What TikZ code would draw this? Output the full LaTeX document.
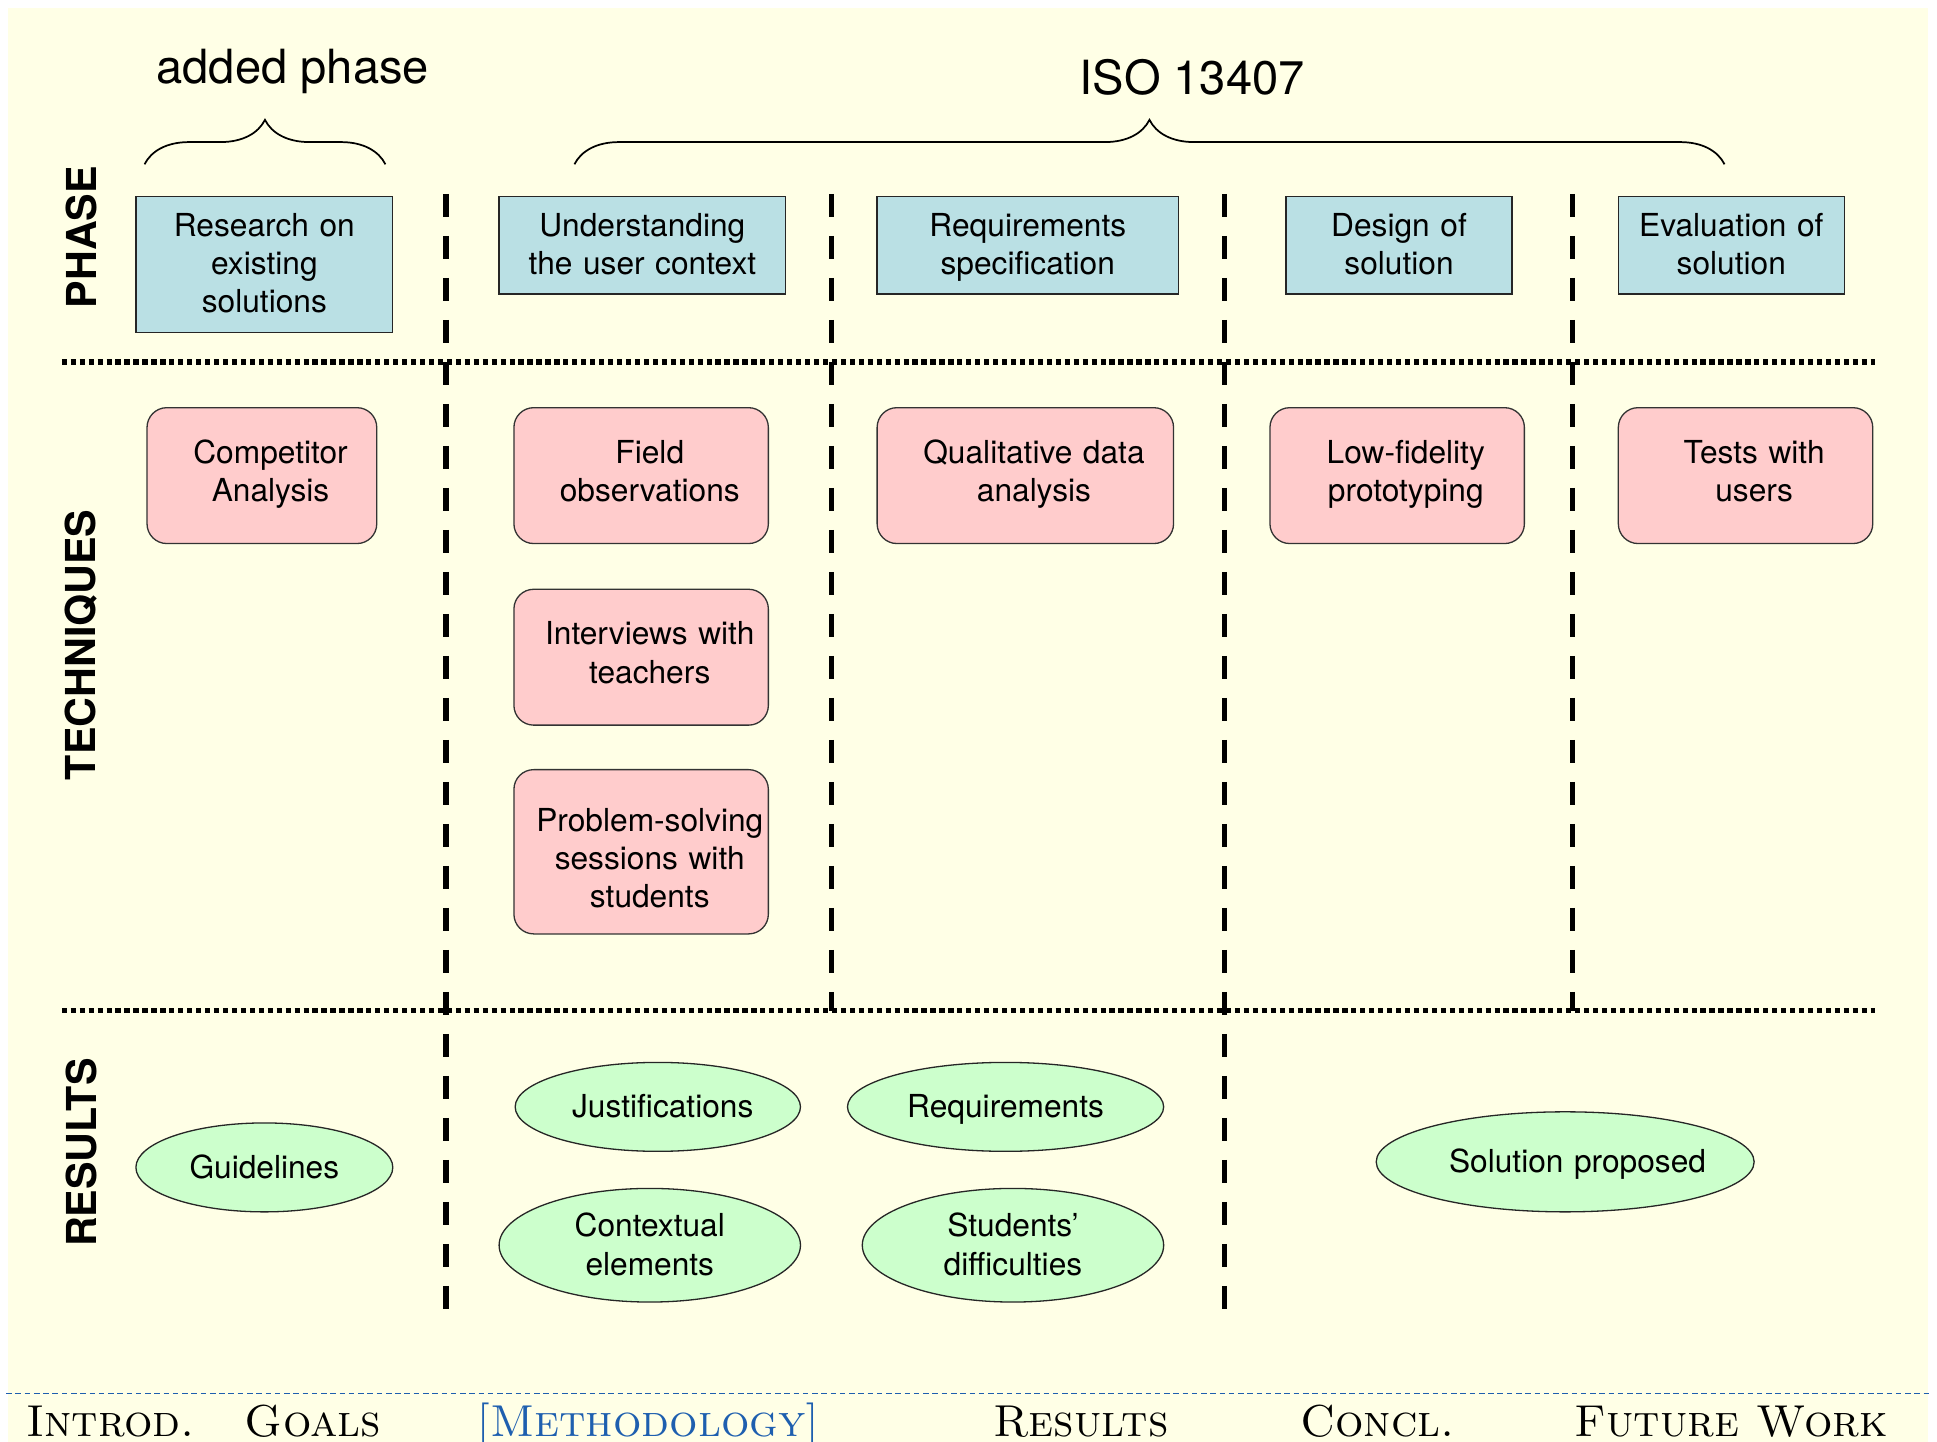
\documentclass[tikz,border=0pt]{standalone}
\usepackage{fontspec}
\newfontfamily\helv{TeX Gyre Heros}
\usetikzlibrary{shapes.geometric,decorations.pathreplacing}

\definecolor{bgyellow}{RGB}{255,255,230}
\definecolor{phaseblue}{RGB}{186,224,228}
\definecolor{techpink}{RGB}{255,204,204}
\definecolor{resgreen}{RGB}{204,255,204}
\definecolor{navblue}{RGB}{30,95,175}

% line struts, so that every line box has the same height and depth
\newcommand{\phasestrut}{\rule[-3.2pt]{0pt}{16pt}}
\newcommand{\techstrut}{\rule[-4.5pt]{0pt}{15.3pt}}
\newcommand{\resstrut}{\rule[-3.2pt]{0pt}{16.3pt}}
\newcommand{\centred}[1]{\leftskip=#1 plus 1fil\rightskip=0pt plus 1fil\parfillskip=0pt}

\begin{document}
\begin{tikzpicture}[x=0.02cm,y=-0.02cm,semithick,
  font=\helv\fontsize{14.6}{17.6}\selectfont]
  \tikzstyle{phase}=[draw=black!85,fill=phaseblue,text width=3.6cm,inner sep=0pt,
    execute at begin node={\centred{0pt}\phasestrut},execute at end node=\phasestrut]
  \tikzstyle{technique}=[draw=black!80,fill=techpink,rounded corners=0.32cm,
    text width=4.1cm,inner sep=0pt,minimum width=4.12cm,minimum height=2.2cm,
    execute at begin node={\centred{0.28cm}\techstrut},execute at end node=\techstrut]
  \tikzstyle{result}=[ellipse,draw=black!85,fill=resgreen,text width=2.9cm,inner sep=0pt,
    execute at begin node={\centred{0pt}\resstrut},execute at end node=\resstrut]
  \tikzstyle{rowtitle}=[rotate=90,font=\helv\bfseries\fontsize{19}{22}\selectfont]
  \tikzstyle{bigtext}=[font=\helv\fontsize{21.7}{26}\selectfont]
  \tikzstyle{column}=[line width=2.4pt,dash pattern=on 0.38cm off 0.3cm]
  \tikzstyle{row}=[line width=2.6pt,dash pattern=on 0.085cm off 0.06cm]
  \tikzstyle{brace}=[decorate,decoration={brace,amplitude=0.72cm},line width=0.8pt]
  \tikzstyle{nav}=[anchor=base,font=\fontsize{20.6}{24}\selectfont\scshape]

  \useasboundingbox (0,0) rectangle (1568,1167);
  \fill[white] (0,0) rectangle (1568,1167);
  \fill[bgyellow] (6.5,6.5) rectangle (1561,1167);

  % separators
  \foreach \x/\yend in {361/1060,673/818,991/1060,1273/818}
    \draw[column] (\x,157) -- (\x,\yend);
  \draw[row] (50,293) -- (1518,293);
  \draw[row] (50,818) -- (1518,818);

  % row titles
  \node[rowtitle] (phaselbl) at (66,192) {PHASE};
  \node[rowtitle] (techlbl)  at (66,522) {TECHNIQUES};
  \node[rowtitle] (reslbl)   at (66,933) {RESULTS};

  % braces
  \draw[brace] (117,133) -- (312,133);
  \draw[brace] (465,133) -- (1396,133);
  \node[bigtext] (added) at (237,58) {added phase};
  \node[bigtext] (iso)   at (965,63) {ISO 13407};

  % phases
  \node[phase,minimum width=4.16cm,minimum height=2.2cm]  (research)   at (214,214)    {Research on\\existing\\solutions};
  \node[phase,text width=4.5cm,minimum width=4.64cm,minimum height=1.58cm] (understand) at (520,198.5) {Understanding\\the user context};
  \node[phase,minimum width=4.88cm,minimum height=1.58cm] (reqspec)    at (832,198.5)  {Requirements\\specification};
  \node[phase,minimum width=3.66cm,minimum height=1.58cm] (design)     at (1132.5,198.5) {Design of\\solution};
  \node[phase,minimum width=3.66cm,minimum height=1.58cm] (evaluation) at (1401.5,198.5) {Evaluation of\\solution};

  % techniques
  \node[technique,text width=3.6cm,minimum width=3.72cm] (competitor) at (212,385) {Competitor\\Analysis};
  \node[technique]                      (field)       at (519,385)   {Field\\observations};
  \node[technique]                      (interviews)  at (519,532)   {Interviews with\\teachers};
  \node[technique,minimum height=2.66cm,
    execute at begin node={\centred{0.28cm}\rule{0pt}{21pt}}] (problem) at (519,689.5) {Problem-solving\\sessions with\\students};
  \node[technique,minimum width=4.8cm]  (qualitative) at (830,385)   {Qualitative data\\analysis};
  \node[technique]                      (lofi)        at (1131,385)  {Low-fidelity\\prototyping};
  \node[technique]                      (tests)       at (1413,385)  {Tests with\\users};

  % results
  \node[result,minimum width=4.16cm,minimum height=1.44cm] (guidelines)   at (214,945)    {Guidelines};
  \node[result,text width=3.2cm,minimum width=4.62cm,minimum height=1.44cm,
    execute at begin node={\centred{0.16cm}\resstrut}] (justif) at (532.5,896) {Justifications};
  \node[result,minimum width=4.88cm,minimum height=1.84cm] (contextual)   at (526,1008)   {Contextual\\elements};
  \node[result,text width=3.5cm,minimum width=5.12cm,minimum height=1.44cm] (requirements) at (814,896) {Requirements};
  \node[result,minimum width=4.88cm,minimum height=1.84cm] (difficulties) at (820,1008)   {Students’\\difficulties};
  \node[result,text width=4.6cm,inner xsep=-0.25cm,minimum width=6.12cm,minimum height=1.62cm,
    execute at begin node={\centred{0.4cm}\resstrut}] (solution) at (1267,940.5) {Solution proposed};

  % navigation bar
  \draw[navblue,line width=0.9pt,dash pattern=on 0.09cm off 0.06cm] (5,1128) -- (1562,1128);
  \node[nav] (introd)  at (89.5,1163)  {Introd.};
  \node[nav] (goals)   at (253.5,1163) {Goals};
  \node[nav,text=navblue] (method) at (524.5,1163) {[Methodology]};
  \node[nav] (results) at (875,1163)   {Results};
  \node[nav] (concl)   at (1115,1163)  {Concl.};
  \node[nav] (future)  at (1401.5,1163) {Future Work};
\end{tikzpicture}
\end{document}
